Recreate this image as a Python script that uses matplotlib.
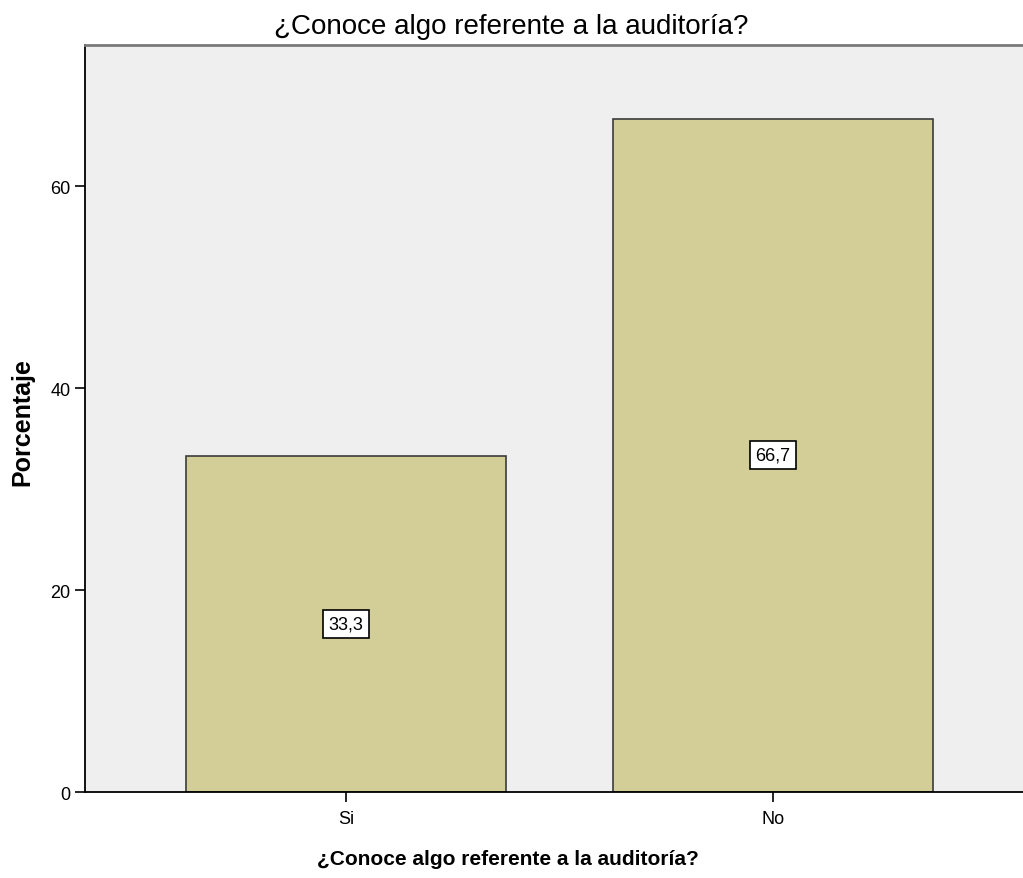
# Bar chart: ¿Conoce algo referente a la auditoría?

import matplotlib.pyplot as plt
import numpy as np

plt.rcParams['font.family'] = ['Liberation Sans', 'DejaVu Sans']

# Data
categories = ['Si', 'No']
percentages = [33.3, 66.7]
labels = ['33,3', '66,7']

fig = plt.figure(figsize=(10.23, 8.79), dpi=100)
ax = fig.add_axes([0.0831, 0.0978, 0.9277, 0.8498])
ax.set_facecolor('#efefef')

x = np.arange(len(categories))
bars = ax.bar(x, percentages, width=0.75, color='#d3ce97',
              edgecolor='#3c3c3c', linewidth=1.2, zorder=2)

# value boxes in the middle of each bar
for xi, val, lab in zip(x, percentages, labels):
    ax.text(xi, val / 2, lab, ha='center', va='center', fontsize=13,
            bbox=dict(boxstyle='square,pad=0.3', facecolor='white',
                      edgecolor='black', linewidth=1.2), zorder=3)

ax.set_xlim(-0.611, 1.611)
ax.set_ylim(0, 74)
ax.set_yticks([0, 20, 40, 60])
ax.set_xticks(x)
ax.set_xticklabels(categories)
ax.tick_params(axis='both', labelsize=13, length=7, width=1.2, color='black')
ax.tick_params(axis='x', pad=6)

for side in ['left', 'bottom']:
    ax.spines[side].set_color('black')
    ax.spines[side].set_linewidth(1.3)
ax.spines['top'].set_color('#7a7a7a')
ax.spines['top'].set_linewidth(2)
ax.spines['right'].set_visible(False)

# titles centred on the figure, like the original
fig.text(0.5, 0.969, '¿Conoce algo referente a la auditoría?', fontsize=20,
         ha='center', va='center')
fig.text(0.497, 0.022, '¿Conoce algo referente a la auditoría?', fontsize=15,
         fontweight='bold', ha='center', va='center')
fig.text(0.022, 0.52, 'Porcentaje', fontsize=18, fontweight='bold',
         rotation=90, ha='center', va='center')

plt.savefig('out.png', dpi=100)
